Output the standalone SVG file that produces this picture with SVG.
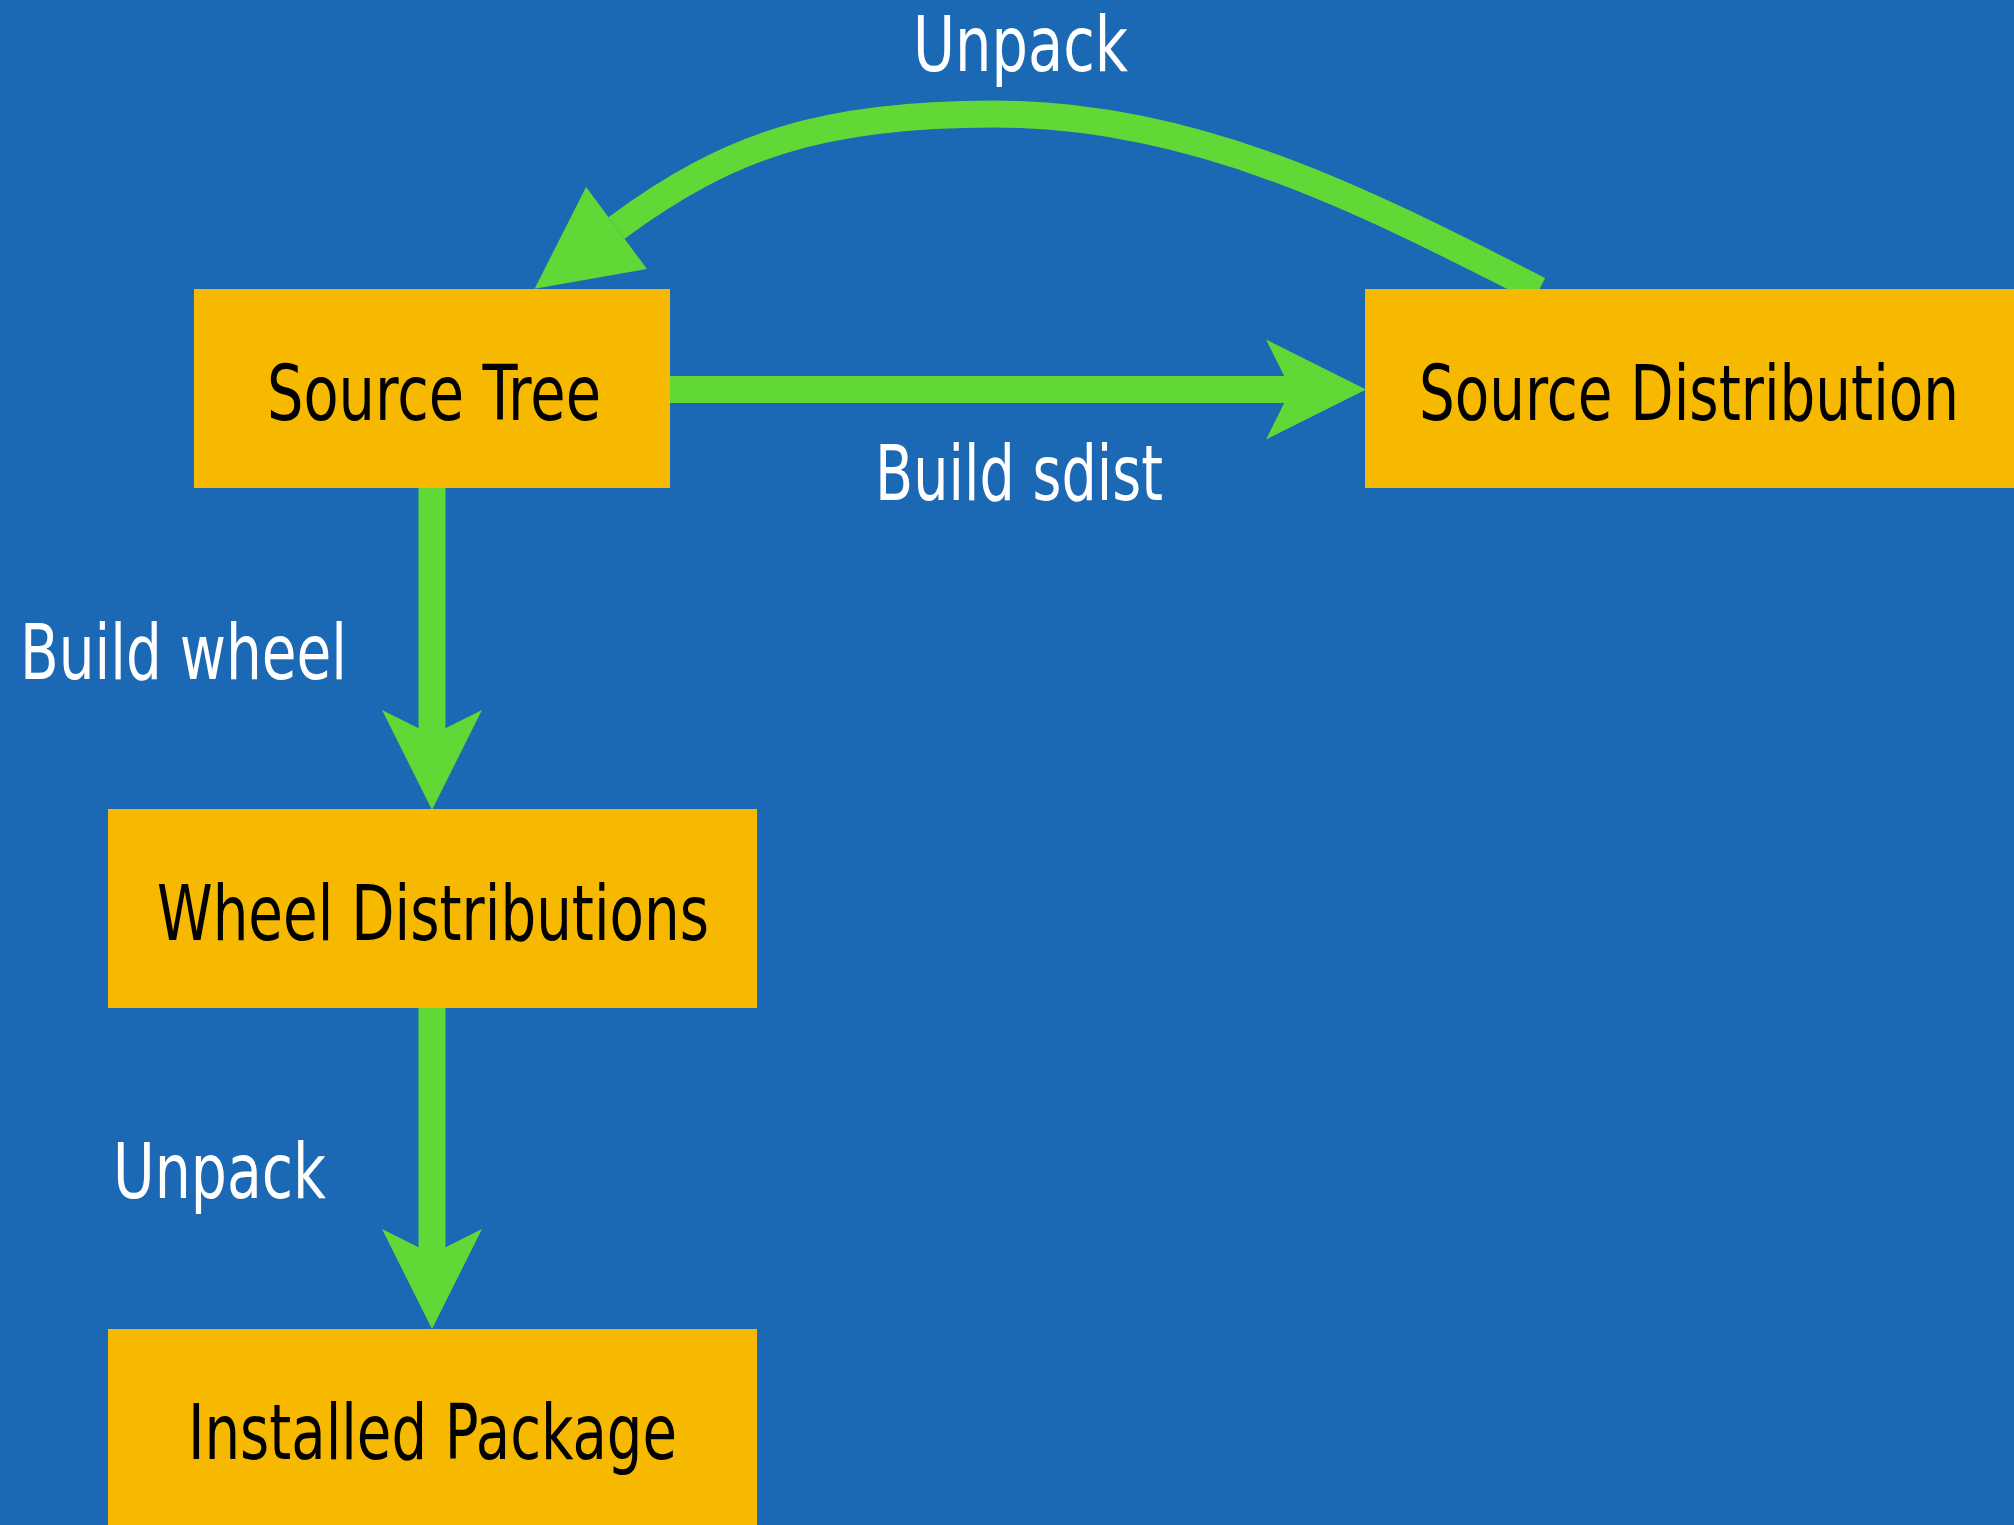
<svg xmlns="http://www.w3.org/2000/svg" width="2014" height="1525" viewBox="0 0 2014 1525">
  <style>
    .bg { fill: #1b68b5; }
    .box { fill: #f6b900; }
    .edge { fill: none; stroke: #62d836; stroke-width: 27; stroke-linecap: butt; }
    .head { fill: #62d836; }
    .nlabel { font-family: "Liberation Sans Narrow", "DejaVu Sans Condensed", "Liberation Sans", sans-serif; font-size: 76px; fill: #000000; }
    .elabel { font-family: "Liberation Sans Narrow", "DejaVu Sans Condensed", "Liberation Sans", sans-serif; font-size: 76px; fill: #ffffff; }
  </style>
  <defs>
    <marker id="notched" markerUnits="userSpaceOnUse" markerWidth="100" markerHeight="100" refX="25" refY="0" orient="auto" overflow="visible">
      <path class="head" d="M0,-50 L100,0 L0,50 L25,0 Z"/>
    </marker>
    <marker id="tri" markerUnits="userSpaceOnUse" markerWidth="102" markerHeight="102" refX="0" refY="0" orient="auto" overflow="visible">
      <path class="head" d="M0,-51 L102,0 L0,51 Z"/>
    </marker>
  </defs>
  <rect class="bg" x="0" y="0" width="2014" height="1525"/>

  <g id="connectors">
    <path class="edge" d="M670,389.5 L1291,389.5" marker-end="url(#notched)"/>
    <path class="edge" d="M1539,290 C1360.8,199.2 1194,114 994,114 C824,114 728.6,144.8 616.5,228" marker-end="url(#tri)"/>
    <path class="edge" d="M432,488 L432,735" marker-end="url(#notched)"/>
    <path class="edge" d="M432,1008 L432,1254" marker-end="url(#notched)"/>
    <text class="elabel" x="913" y="71" textLength="215" lengthAdjust="spacingAndGlyphs">Unpack</text>
    <text class="elabel" x="875" y="500" textLength="288" lengthAdjust="spacingAndGlyphs">Build sdist</text>
    <text class="elabel" x="20" y="679" textLength="327" lengthAdjust="spacingAndGlyphs">Build wheel</text>
    <text class="elabel" x="113" y="1198" textLength="213" lengthAdjust="spacingAndGlyphs">Unpack</text>
  </g>

  <g id="source-tree">
    <rect class="box" x="194" y="289" width="476" height="199"/>
    <text class="nlabel" x="267" y="420" textLength="334" lengthAdjust="spacingAndGlyphs">Source Tree</text>
  </g>
  <g id="source-distribution">
    <rect class="box" x="1365" y="289" width="649" height="199"/>
    <text class="nlabel" x="1419" y="420" textLength="540" lengthAdjust="spacingAndGlyphs">Source Distribution</text>
  </g>
  <g id="wheel-distributions">
    <rect class="box" x="108" y="809" width="649" height="199"/>
    <text class="nlabel" x="157" y="940" textLength="552" lengthAdjust="spacingAndGlyphs">Wheel Distributions</text>
  </g>
  <g id="installed-package">
    <rect class="box" x="108" y="1329" width="649" height="196"/>
    <text class="nlabel" x="188" y="1459" textLength="489" lengthAdjust="spacingAndGlyphs">Installed Package</text>
  </g>
</svg>
